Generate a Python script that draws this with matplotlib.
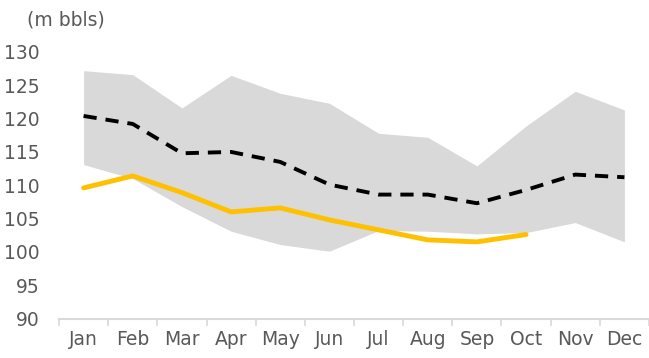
import matplotlib
matplotlib.use("Agg")
import matplotlib.pyplot as plt
import numpy as np

# monthly stocks, million barrels
months = ["Jan", "Feb", "Mar", "Apr", "May", "Jun",
          "Jul", "Aug", "Sep", "Oct", "Nov", "Dec"]
range_max = [127.2, 126.6, 121.6, 126.5, 123.8, 122.3,
             117.8, 117.2, 112.9, 118.9, 124.1, 121.3]
range_min = [113.1, 111.0, 106.8, 103.1, 101.1, 100.1,
             103.2, 103.1, 102.7, 102.9, 104.4, 101.5]
five_yr_avg = [120.4, 119.2, 114.8, 115.0, 113.5, 110.1,
               108.6, 108.6, 107.3, 109.3, 111.6, 111.2]
current = [109.6, 111.4, 108.9, 106.0, 106.6, 104.8,
           103.3, 101.8, 101.5, 102.6]

text_col = "#595959"

fig = plt.figure(figsize=(6.49, 3.58), dpi=100)
ax = fig.add_axes([59 / 649, 39.5 / 358, 590 / 649, (318.5 - 52) / 358])

x = np.arange(len(months))
ax.fill_between(x, range_min, range_max, color="#d9d9d9", lw=0, zorder=1)
ax.plot(x, five_yr_avg, color="black", lw=2.8, ls=(0, (3.4, 2.3)), zorder=3)
ax.plot(x[:len(current)], current, color="#ffc000", lw=3.5,
        solid_capstyle="round", solid_joinstyle="round", zorder=4)

ax.set_ylim(90, 130)
ax.set_yticks(range(90, 131, 5))
ax.set_xlim(-0.5, 11.44)
ax.set_xticks(x)
ax.set_xticklabels(months)
ax.set_xticks(np.arange(-0.5, 12, 1), minor=True)

for side in ["top", "right", "left"]:
    ax.spines[side].set_visible(False)
ax.spines["bottom"].set_color("#d9d9d9")
ax.spines["bottom"].set_linewidth(1.5)

ax.tick_params(axis="y", length=0, pad=14, labelsize=13.5, labelcolor=text_col)
ax.tick_params(axis="x", which="major", length=0, pad=8,
               labelsize=13.5, labelcolor=text_col)
ax.tick_params(axis="x", which="minor", length=5, width=1.2, color="#d9d9d9")

fig.text(27 / 649, 1 - 20 / 358, "(m bbls)", fontsize=13.5, color=text_col,
         va="center", ha="left")

fig.savefig("out.png", dpi=100)
